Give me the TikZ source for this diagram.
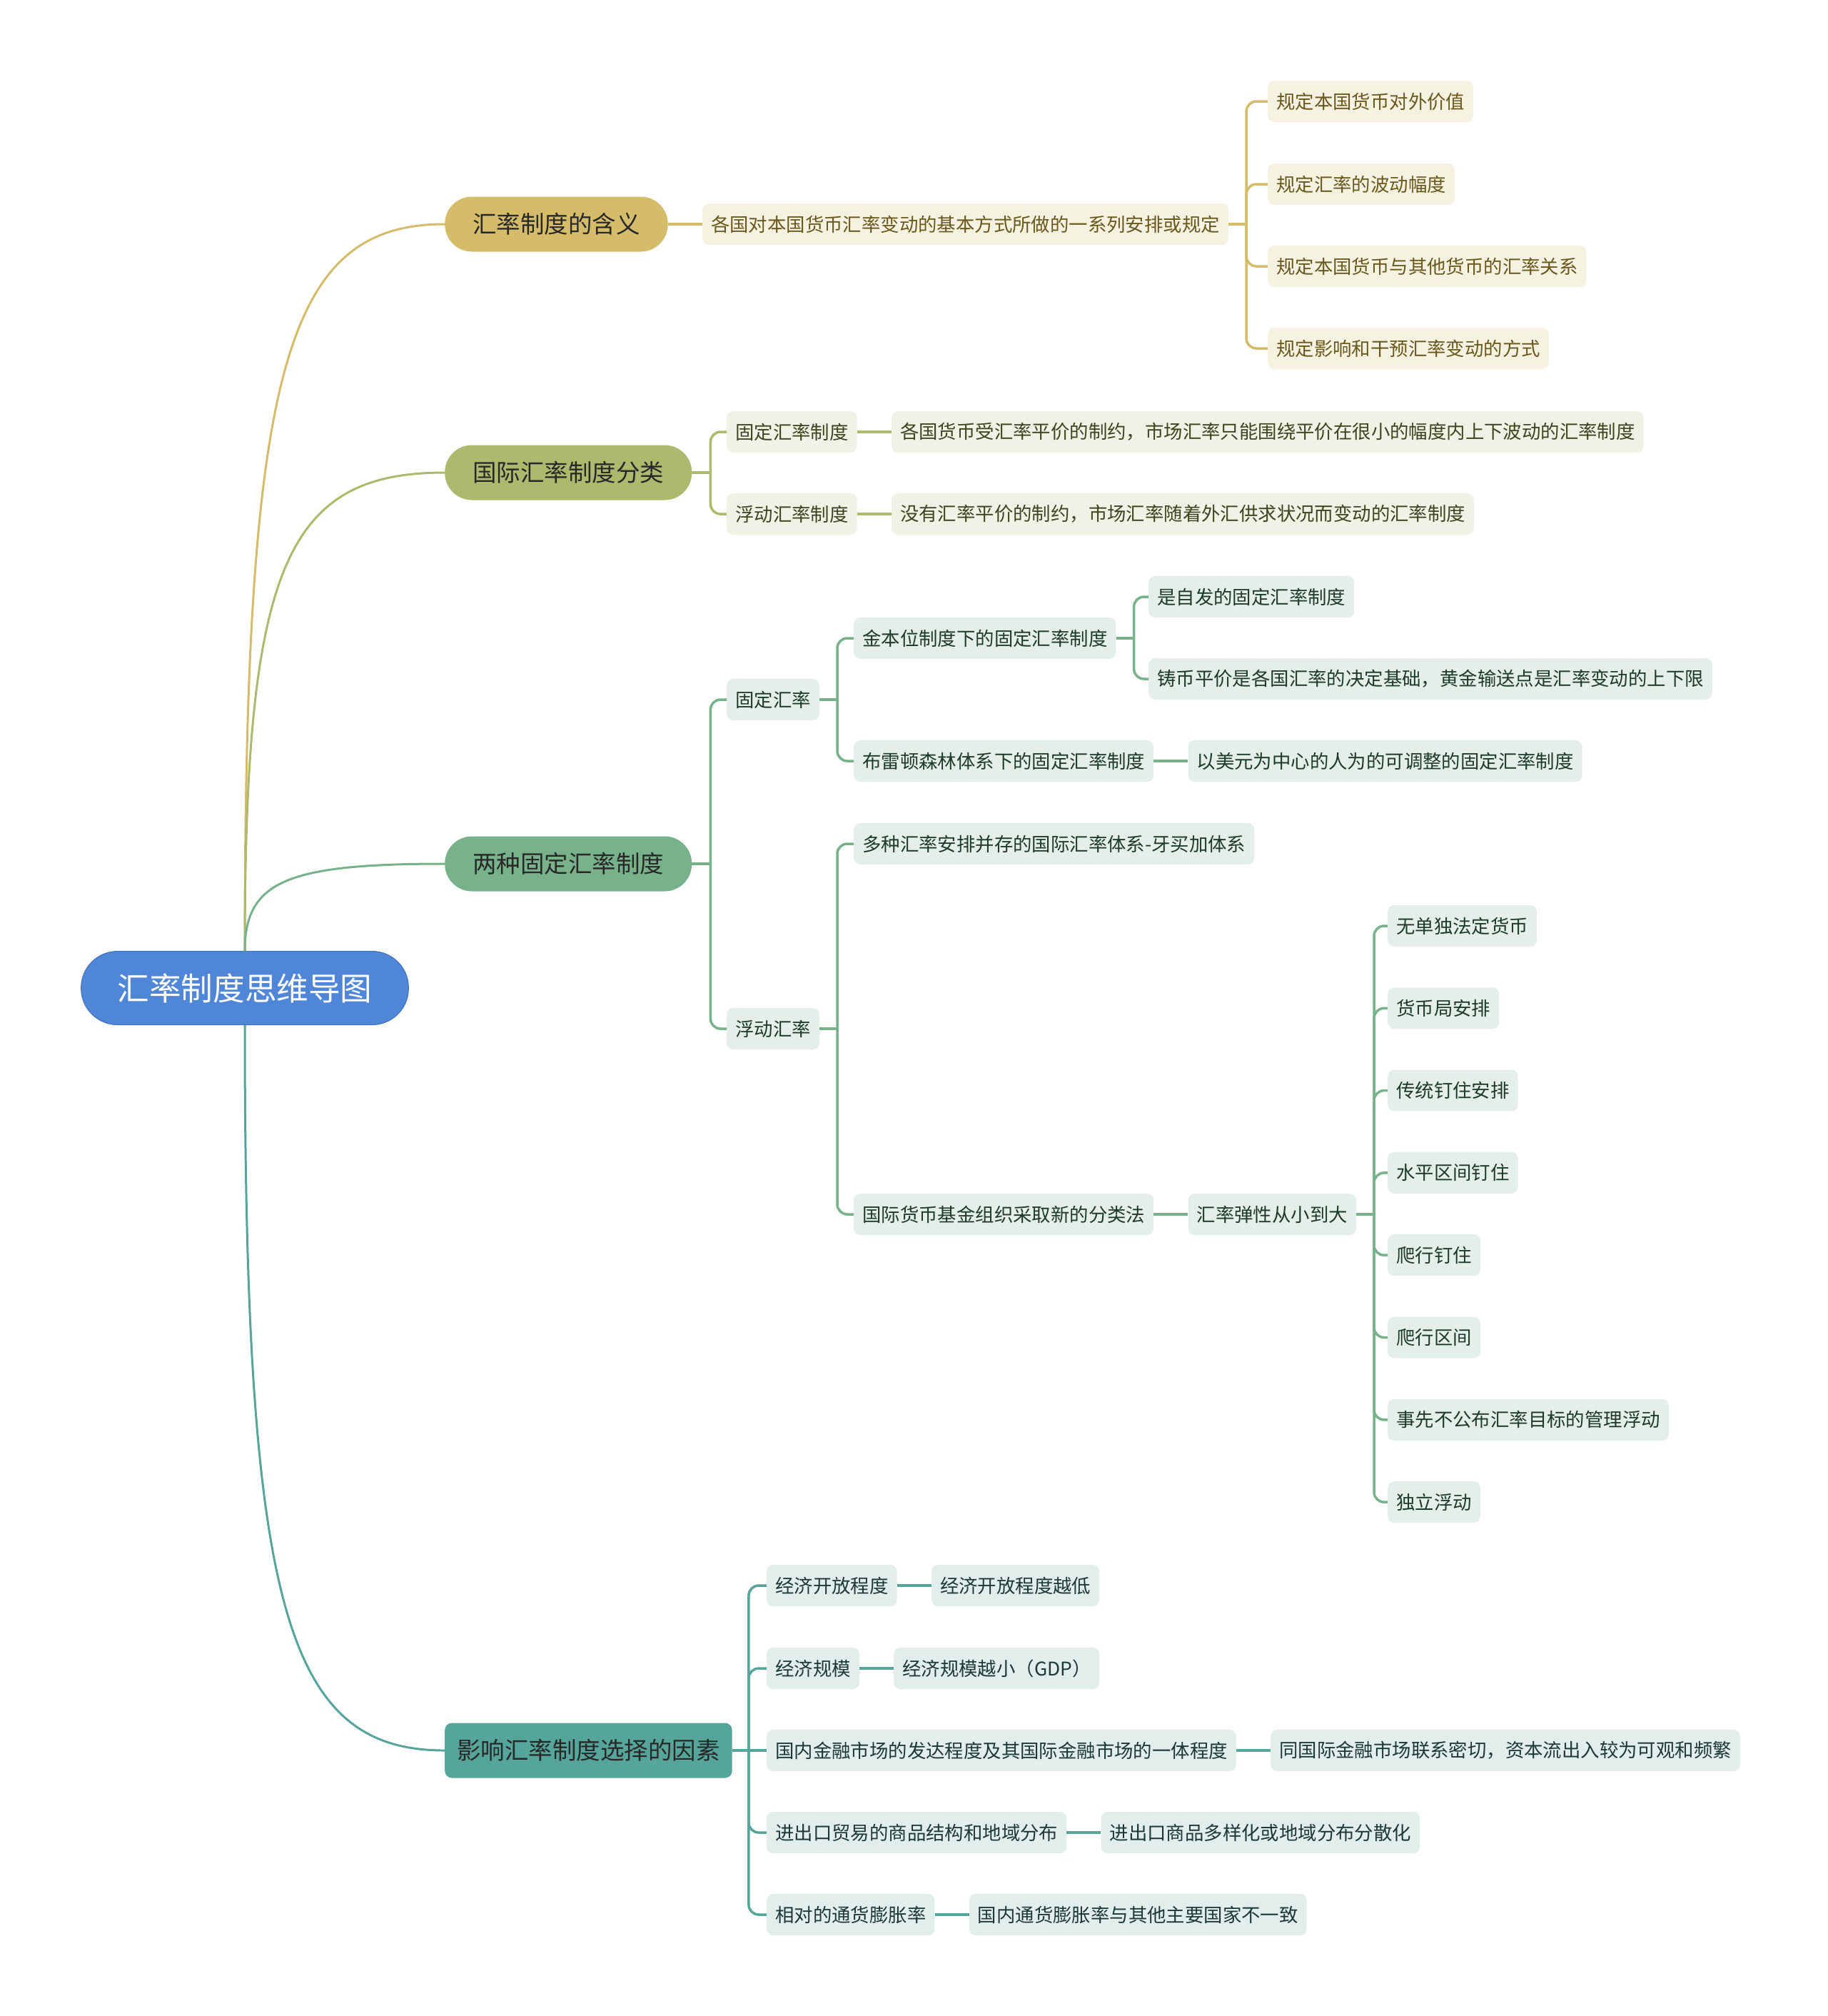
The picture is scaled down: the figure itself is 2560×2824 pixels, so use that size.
\documentclass[tikz,border=0pt]{standalone}
\usepackage{fontspec}
\setmainfont{Noto Sans CJK SC}
\usetikzlibrary{positioning}

\definecolor{rootblue}{RGB}{79,134,215}
\definecolor{goldline}{RGB}{212,188,106}
\definecolor{goldbg}{RGB}{246,242,226}
\definecolor{goldtx}{RGB}{105,88,28}
\definecolor{oliveline}{RGB}{174,185,110}
\definecolor{olivebg}{RGB}{241,241,229}
\definecolor{olivetx}{RGB}{62,68,32}
\definecolor{greenline}{RGB}{120,178,138}
\definecolor{greenbg}{RGB}{229,239,233}
\definecolor{greentx}{RGB}{30,58,40}
\definecolor{tealline}{RGB}{85,165,155}
\definecolor{tealbg}{RGB}{225,238,236}
\definecolor{tealtx}{RGB}{30,56,54}
\definecolor{topictx}{RGB}{40,40,40}

\begin{document}
\begin{tikzpicture}[
    x=1pt, y=-1pt,
    root/.style={fill=rootblue, draw=rootblue!85!black, line width=1, text=white, rounded corners=51,
        inner xsep=51, inner ysep=0, minimum height=103, font=\fontsize{44.6}{50}\selectfont},
    topic/.style={fill=#1line, text=topictx, rounded corners=38, inner xsep=39, inner ysep=0,
        minimum height=77, font=\fontsize{33.5}{38}\selectfont, anchor=west},
    leaf/.style={fill=#1bg, text=#1tx, rounded corners=9, inner xsep=12, inner ysep=0,
        minimum height=58, font=\fontsize{26.4}{30}\selectfont, anchor=west},
    branch/.style={draw=#1line, line width=3.5, rounded corners=14},
    trunk/.style={draw=#1line, line width=3}
]
\useasboundingbox (0,0) rectangle (2560,2824);

% Centre and main topics
\node[root] (root) at (343,1384) {汇率制度思维导图};
\node[topic=gold] (meaning) at (623,314) {汇率制度的含义};
\node[topic=olive] (classes) at (623,662) {国际汇率制度分类};
\node[topic=green] (twofixed) at (623,1210) {两种固定汇率制度};
\node[topic=teal, rounded corners=10, inner xsep=17] (factors) at (623,2452) {影响汇率制度选择的因素};

\draw[trunk=gold] (root.north) .. controls +(0,-815) and +(-223,0) .. (meaning.west);
\draw[trunk=olive] (root.north) .. controls +(0,-537) and +(-223,0) .. (classes.west);
\draw[trunk=green] (root.north) .. controls +(0,-98) and +(-220,0) .. (twofixed.west);
\draw[trunk=teal] (root.south) .. controls +(0,814) and +(-223,0) .. (factors.west);

% 汇率制度的含义
\node[leaf=gold, right=48pt of meaning] (def) {各国对本国货币汇率变动的基本方式所做的一系列安排或规定};
\node[leaf=gold] (rule1) at (1776,142) {规定本国货币对外价值};
\node[leaf=gold] (rule2) at (1776,258) {规定汇率的波动幅度};
\node[leaf=gold] (rule3) at (1776,373) {规定本国货币与其他货币的汇率关系};
\node[leaf=gold] (rule4) at (1776,488) {规定影响和干预汇率变动的方式};
\draw[branch=gold] (meaning.east) -- (def.west);
\draw[branch=gold] (def.east) -- ++(25,0) coordinate (defj);
\foreach \i in {1,...,4}
    \draw[branch=gold] (defj) |- (rule\i.west);

% 国际汇率制度分类
\node[leaf=olive] (fixsys) at (1018,605) {固定汇率制度};
\node[leaf=olive] (floatsys) at (1018,720) {浮动汇率制度};
\node[leaf=olive, right=48pt of fixsys] (fixdef) {各国货币受汇率平价的制约，市场汇率只能围绕平价在很小的幅度内上下波动的汇率制度};
\node[leaf=olive, right=48pt of floatsys] (floatdef) {没有汇率平价的制约，市场汇率随着外汇供求状况而变动的汇率制度};
\draw[branch=olive] (classes.east) -- ++(26,0) coordinate (classj);
\draw[branch=olive] (classj) |- (fixsys.west);
\draw[branch=olive] (classj) |- (floatsys.west);
\draw[branch=olive] (fixsys.east) -- (fixdef.west);
\draw[branch=olive] (floatsys.east) -- (floatdef.west);

% 两种固定汇率制度
\node[leaf=green] (fixed) at (1018,980) {固定汇率};
\node[leaf=green] (floating) at (1018,1441) {浮动汇率};
\draw[branch=green] (twofixed.east) -- ++(26,0) coordinate (twoj);
\draw[branch=green] (twoj) |- (fixed.west);
\draw[branch=green] (twoj) |- (floating.west);

\node[leaf=green] (goldstd) at (1196,894) {金本位制度下的固定汇率制度};
\node[leaf=green] (bretton) at (1196,1066) {布雷顿森林体系下的固定汇率制度};
\node[leaf=green] (spont) at (1609,836) {是自发的固定汇率制度};
\node[leaf=green] (mint) at (1609,951) {铸币平价是各国汇率的决定基础，黄金输送点是汇率变动的上下限};
\node[leaf=green, right=48pt of bretton] (dollar) {以美元为中心的人为的可调整的固定汇率制度};
\draw[branch=green] (fixed.east) -- ++(25,0) coordinate (fixedj);
\draw[branch=green] (fixedj) |- (goldstd.west);
\draw[branch=green] (fixedj) |- (bretton.west);
\draw[branch=green] (goldstd.east) -- ++(25,0) coordinate (goldj);
\draw[branch=green] (goldj) |- (spont.west);
\draw[branch=green] (goldj) |- (mint.west);
\draw[branch=green] (bretton.east) -- (dollar.west);

\node[leaf=green] (jamaica) at (1196,1182) {多种汇率安排并存的国际汇率体系-牙买加体系};
\node[leaf=green] (imf) at (1196,1701) {国际货币基金组织采取新的分类法};
\node[leaf=green, right=48pt of imf] (flex) {汇率弹性从小到大};
\draw[branch=green] (floating.east) -- ++(25,0) coordinate (floatj);
\draw[branch=green] (floatj) |- (jamaica.west);
\draw[branch=green] (floatj) |- (imf.west);
\draw[branch=green] (imf.east) -- (flex.west);
\draw[branch=green] (flex.east) -- ++(25,0) coordinate (flexj);
\foreach \txt [count=\i] in {无单独法定货币, 货币局安排, 传统钉住安排, 水平区间钉住,
        爬行钉住, 爬行区间, 事先不公布汇率目标的管理浮动, 独立浮动} {
    \node[leaf=green] (regime\i) at (1944,{1297+115.3*(\i-1)}) {\txt};
    \draw[branch=green] (flexj) |- (regime\i.west);
}

% 影响汇率制度选择的因素
\node[leaf=teal] (open) at (1074,2221) {经济开放程度};
\node[leaf=teal] (scale) at (1074,2337) {经济规模};
\node[leaf=teal] (market) at (1074,2452) {国内金融市场的发达程度及其国际金融市场的一体程度};
\node[leaf=teal] (trade) at (1074,2567) {进出口贸易的商品结构和地域分布};
\node[leaf=teal] (inflation) at (1074,2682) {相对的通货膨胀率};
\node[leaf=teal, right=48pt of open] (openres) {经济开放程度越低};
\node[leaf=teal, right=48pt of scale] (scaleres) {经济规模越小（GDP）};
\node[leaf=teal, right=48pt of market] (marketres) {同国际金融市场联系密切，资本流出入较为可观和频繁};
\node[leaf=teal, right=48pt of trade] (traderes) {进出口商品多样化或地域分布分散化};
\node[leaf=teal, right=48pt of inflation] (inflationres) {国内通货膨胀率与其他主要国家不一致};
\draw[branch=teal] (factors.east) -- ++(23,0) coordinate (factj);
\draw[branch=teal] (factj) |- (open.west);
\draw[branch=teal] (factj) |- (scale.west);
\draw[branch=teal] (factj) -- (market.west);
\draw[branch=teal] (factj) |- (trade.west);
\draw[branch=teal] (factj) |- (inflation.west);
\draw[branch=teal] (open.east) -- (openres.west);
\draw[branch=teal] (scale.east) -- (scaleres.west);
\draw[branch=teal] (market.east) -- (marketres.west);
\draw[branch=teal] (trade.east) -- (traderes.west);
\draw[branch=teal] (inflation.east) -- (inflationres.west);

\end{tikzpicture}
\end{document}
